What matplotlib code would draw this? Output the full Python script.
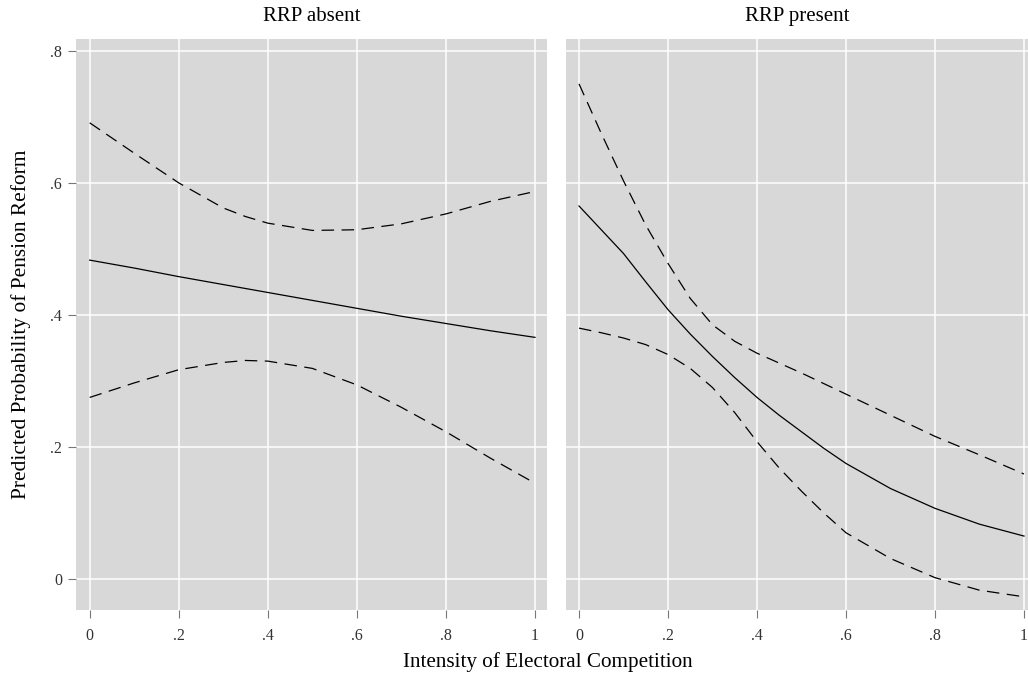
import matplotlib
matplotlib.use("Agg")
import matplotlib.pyplot as plt

plt.rcParams["font.family"] = ["Liberation Serif", "DejaVu Serif"]

# values
x_absent = [0.0, 0.1, 0.2, 0.3, 0.35, 0.4, 0.5, 0.6, 0.7, 0.8, 0.9, 1.0]
absent_fit = [0.483, 0.471, 0.458, 0.446, 0.440, 0.434, 0.422, 0.410, 0.398, 0.387, 0.376, 0.366]
absent_hi = [0.691, 0.645, 0.600, 0.562, 0.549, 0.539, 0.528, 0.529, 0.538, 0.553, 0.572, 0.587]
absent_lo = [0.275, 0.297, 0.317, 0.328, 0.331, 0.330, 0.319, 0.294, 0.260, 0.223, 0.183, 0.145]

x_present = [0.0, 0.05, 0.1, 0.15, 0.2, 0.25, 0.3, 0.35, 0.4, 0.45, 0.5, 0.55,
             0.6, 0.7, 0.8, 0.9, 1.0]
present_fit = [0.565, 0.529, 0.493, 0.450, 0.408, 0.371, 0.337, 0.305, 0.275, 0.248,
               0.223, 0.198, 0.175, 0.137, 0.107, 0.083, 0.065]
present_hi = [0.750, 0.675, 0.603, 0.536, 0.478, 0.425, 0.385, 0.360, 0.342, 0.327,
              0.312, 0.296, 0.280, 0.248, 0.216, 0.188, 0.159]
present_lo = [0.380, 0.373, 0.365, 0.355, 0.340, 0.319, 0.290, 0.252, 0.208, 0.168,
              0.133, 0.100, 0.070, 0.031, 0.002, -0.017, -0.027]

xticks = [0, 0.2, 0.4, 0.6, 0.8, 1]
xtick_labels = ["0", ".2", ".4", ".6", ".8", "1"]
yticks = [0, 0.2, 0.4, 0.6, 0.8]
ytick_labels = ["0", ".2", ".4", ".6", ".8"]

panels = [
    ("RRP absent", x_absent, absent_fit, absent_hi, absent_lo,
     [0.0739, 0.0936, 0.4582, 0.8485], (-0.0308, 1.027)),
    ("RRP present", x_present, present_fit, present_hi, present_lo,
     [0.5506, 0.0936, 0.4494, 0.8485], (-0.0292, 1.009)),
]

fig = plt.figure(figsize=(10.28, 6.73), dpi=100)

for i, (title, xs, fit, hi, lo, pos, xlim) in enumerate(panels):
    ax = fig.add_axes(pos)
    ax.set_facecolor("#d8d8d8")
    for s in ax.spines.values():
        s.set_visible(False)
    ax.grid(True, color="white", linewidth=1.1)
    ax.set_axisbelow(True)

    ax.plot(xs, fit, color="black", linewidth=0.9)
    ax.plot(xs, hi, color="black", linewidth=0.9, linestyle=(0, (10, 6)))
    ax.plot(xs, lo, color="black", linewidth=0.9, linestyle=(0, (10, 6)))

    ax.set_xlim(*xlim)
    ax.set_ylim(-0.047, 0.818)
    ax.set_xticks(xticks)
    ax.set_xticklabels(xtick_labels)
    ax.set_yticks(yticks)
    ax.tick_params(axis="both", direction="out", length=6, width=0.8,
                   color="#777777", labelcolor="#333333", labelsize=11.5)
    ax.tick_params(axis="x", pad=7)
    ax.tick_params(axis="y", pad=4)
    if i == 0:
        ax.set_yticklabels(ytick_labels)
    else:
        ax.tick_params(axis="y", left=False, labelleft=False)
    ax.set_title(title, fontsize=15, pad=13)

fig.text(0.5326, 0.001, "Intensity of Electoral Competition", ha="center",
         va="bottom", fontsize=15.2)
fig.text(0.02, 0.518, "Predicted Probability of Pension Reform", rotation=90,
         ha="center", va="center", fontsize=15.4)

fig.savefig("out.png", dpi=100)
